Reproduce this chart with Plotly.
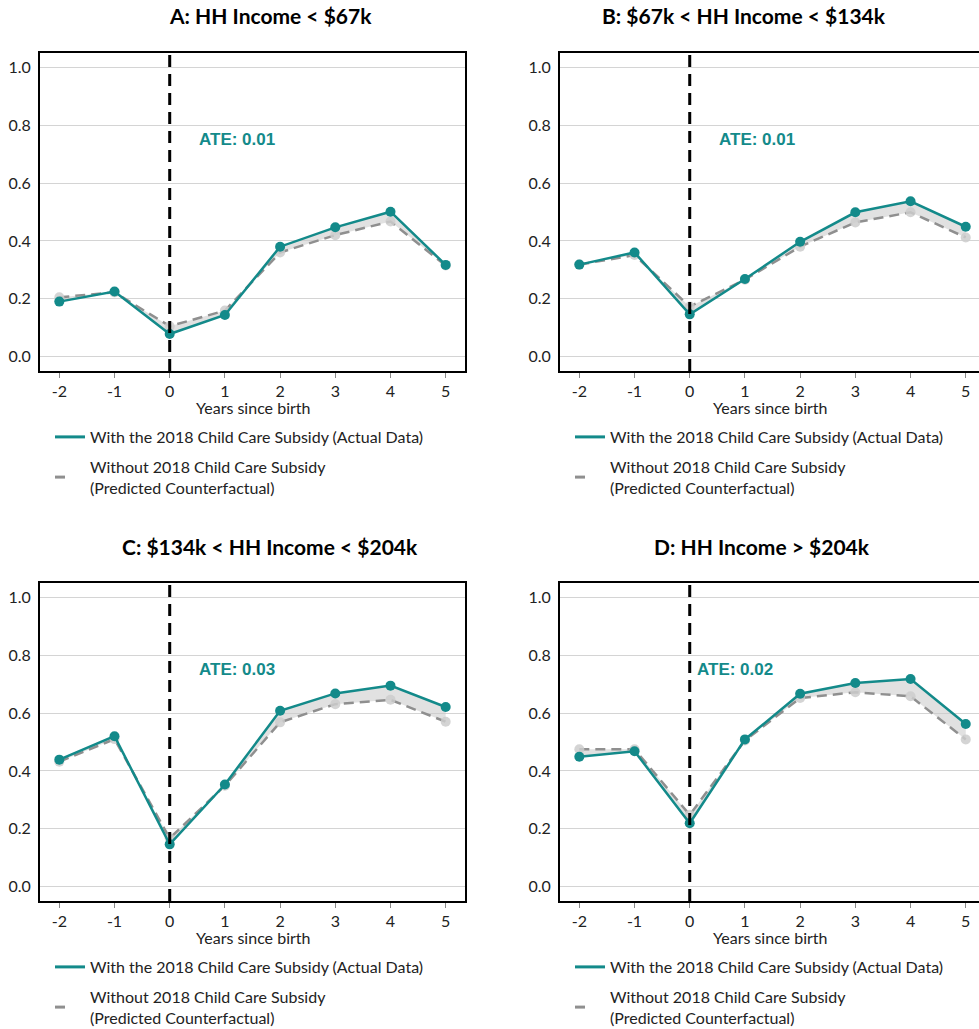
import plotly.graph_objects as go

# Years relative to the birth of the child
years = [-2, -1, 0, 1, 2, 3, 4, 5]
year_labels = ["-2", "-1", "0", "1", "2", "3", "4", "5"]

panel_titles = [
    "A: HH Income < $67k",
    "B: $67k < HH Income < $134k",
    "C: $134k < HH Income < $204k",
    "D: HH Income > $204k",
]

# Observed outcome with the 2018 child care subsidy
actual_a = [0.190, 0.225, 0.078, 0.144, 0.380, 0.447, 0.501, 0.317]
actual_b = [0.318, 0.360, 0.146, 0.268, 0.397, 0.499, 0.537, 0.449]
actual_c = [0.439, 0.520, 0.146, 0.353, 0.608, 0.668, 0.695, 0.621]
actual_d = [0.449, 0.468, 0.219, 0.509, 0.667, 0.704, 0.718, 0.562]

# Predicted counterfactual without the subsidy
counter_a = [0.205, 0.222, 0.105, 0.159, 0.360, 0.420, 0.467, 0.315]
counter_b = [0.318, 0.351, 0.173, 0.266, 0.380, 0.464, 0.499, 0.412]
counter_c = [0.432, 0.510, 0.167, 0.349, 0.568, 0.631, 0.646, 0.570]
counter_d = [0.475, 0.475, 0.248, 0.505, 0.652, 0.672, 0.658, 0.509]

ate_labels = ["ATE: 0.01", "ATE: 0.01", "ATE: 0.03", "ATE: 0.02"]
ate_x = [0.5, 0.5, 0.5, 0.1]
ate_y = [0.75, 0.75, 0.75, 0.75]

actual = [actual_a, actual_b, actual_c, actual_d]
counter = [counter_a, counter_b, counter_c, counter_d]

y_ticks = [0.0, 0.2, 0.4, 0.6, 0.8, 1.0]

W, H = 979, 1029
TEAL = "#138a8a"
GREY = "#8f8f8f"
FONT = "Lato"
NAME_ACTUAL = "With the 2018 Child Care Subsidy (Actual Data)"
NAME_COUNTER = "Without 2018 Child Care Subsidy<br>(Predicted Counterfactual)"


def px_x(p):
    return p / W


def px_y(p):
    return 1 - p / H


# panel geometry in pixels: (left, right, top, bottom, x-range end, right frame)
panels = [
    (40, 465, 53, 371, 5.35, True),
    (560, 979, 53, 371, 5.24, False),
    (40, 465, 583, 901, 5.35, True),
    (560, 979, 583, 901, 5.24, False),
]
title_pos = [(270, 16), (744, 16), (270, 546), (762, 546)]

fig = go.Figure()
annotations = []
shapes = []

for i in range(4):
    sfx = "" if i == 0 else str(i + 1)
    xa, ya = "x" + sfx, "y" + sfx
    leg = "legend" + sfx
    left, right, top, bottom, xend, rframe = panels[i]

    fig.add_trace(go.Scatter(
        x=years, y=counter[i], mode="lines+markers", showlegend=False,
        line=dict(color=GREY, width=2.5, dash="10px,6px"),
        marker=dict(color="rgba(205,205,205,0.85)", size=10),
        xaxis=xa, yaxis=ya, hoverinfo="skip",
    ))
    fig.add_trace(go.Scatter(
        x=years, y=actual[i], mode="lines+markers", showlegend=False,
        line=dict(color=TEAL, width=2.5),
        marker=dict(color=TEAL, size=10),
        fill="tonexty", fillcolor="rgba(200,200,200,0.55)",
        xaxis=xa, yaxis=ya,
    ))

    # legend keys: plain line samples
    fig.add_trace(go.Scatter(
        x=[None], y=[None], mode="lines", name=NAME_ACTUAL,
        line=dict(color=TEAL, width=3),
        xaxis=xa, yaxis=ya, legend=leg, legendgroup="a" + sfx,
    ))
    fig.add_trace(go.Scatter(
        x=[None], y=[None], mode="lines", name=NAME_COUNTER,
        line=dict(color=GREY, width=3, dash="10px,30px"),
        xaxis=xa, yaxis=ya, legend=leg, legendgroup="c" + sfx,
    ))

    fig.update_layout(**{
        "xaxis" + sfx: dict(
            domain=[px_x(left), px_x(right)], anchor=ya,
            range=[-2.35, xend], tickvals=years, ticktext=year_labels,
            ticks="outside", ticklen=5, tickcolor="#888", tickwidth=1,
            ticklabelstandoff=0,
            showgrid=False, zeroline=False,
            showline=True, linecolor="black", linewidth=2, mirror=True,
            tickfont=dict(family=FONT, size=16, color="#222"),
        ),
        "yaxis" + sfx: dict(
            domain=[px_y(bottom), px_y(top)], anchor=xa,
            range=[-0.05, 1.05], tickvals=y_ticks, tickformat=".1f",
            showgrid=True, gridcolor="#d4d4d4", gridwidth=1, zeroline=False,
            showline=True, linecolor="black", linewidth=2, mirror=rframe,
            ticks="", ticklabelstandoff=4,
            tickfont=dict(family=FONT, size=16, color="#222"),
        ),
        leg: dict(
            x=px_x(left + 10), y=px_y(bottom + 49), xanchor="left", yanchor="top",
            font=dict(family=FONT, size=16, color="#222"),
            bgcolor="rgba(0,0,0,0)", traceorder="grouped",
            itemwidth=30, tracegroupgap=6,
        ),
    })

    # vertical marker at birth
    shapes.append(dict(
        type="line", xref=xa, yref=ya + " domain", x0=0, x1=0, y0=0, y1=1,
        line=dict(color="black", width=3, dash="12px,7px"),
    ))

    annotations.append(dict(
        text="<b>" + panel_titles[i] + "</b>",
        x=px_x(title_pos[i][0]), y=px_y(title_pos[i][1]),
        xref="paper", yref="paper", xanchor="center", yanchor="middle",
        showarrow=False, font=dict(family=FONT, size=21, color="black"),
    ))
    annotations.append(dict(
        text="Years since birth",
        x=px_x((left + min(right, left + 425)) / 2), y=px_y(bottom + 36),
        xref="paper", yref="paper", xanchor="center", yanchor="middle",
        showarrow=False, font=dict(family=FONT, size=16, color="#222"),
    ))
    annotations.append(dict(
        text="<b>" + ate_labels[i] + "</b>",
        x=ate_x[i], y=ate_y[i], xref=xa, yref=ya,
        xanchor="left", yanchor="middle", showarrow=False,
        font=dict(family="Liberation Sans", size=17, color=TEAL),
    ))

fig.update_layout(
    width=W, height=H,
    margin=dict(l=0, r=0, t=0, b=0, autoexpand=False),
    paper_bgcolor="white", plot_bgcolor="white",
    annotations=annotations, shapes=shapes,
)

fig.write_html("out.html")
